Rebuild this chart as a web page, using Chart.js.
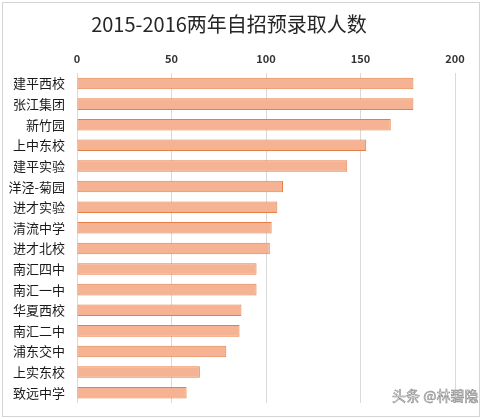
<!DOCTYPE html>
<html>
<head>
<meta charset="utf-8">
<script src="https://cdn.jsdelivr.net/npm/chart.js@4/dist/chart.umd.min.js"></script>
<style>
  html, body { margin: 0; padding: 0; background: #fff; }
  #frame {
    position: absolute; left: 2px; top: 2px;
    width: 476px; height: 413px;
    border: 1px solid #d4d4d4; background: #fff;
  }
  #wm {
    position: absolute; left: 392px; top: 385px;
    font: 14px "Noto Sans CJK SC", sans-serif; color: #f2f2f2;
    -webkit-text-stroke: 0.6px #8a8a8a;
  }
</style>
</head>
<body>
<div id="frame"><canvas id="admitChart"></canvas></div>
<div id="wm">头条 @林碧隐</div>
<script>
// school names, top to bottom
const schools = ['建平西校', '张江集团', '新竹园', '上中东校', '建平实验', '洋泾-菊园', '进才实验', '清流中学',
                 '进才北校', '南汇四中', '南汇一中', '华夏西校', '南汇二中', '浦东交中', '上实东校', '致远中学'];
// admitted students 2015-2016
const admitted = [178, 178, 166, 153, 143, 109, 106, 103, 102, 95, 95, 87, 86, 79, 65, 58];
const xTicks = [0, 50, 100, 150, 200];

const cjk = '"Noto Sans CJK SC", sans-serif';

document.addEventListener('DOMContentLoaded', () => {
    const ctx = document.getElementById('admitChart');
    ctx.width = 476; ctx.height = 413;

    new Chart(ctx, {
        type: 'bar',
        data: {
            labels: schools,
            datasets: [{
                label: '自招预录取人数',
                data: admitted,
                backgroundColor: (c) => {
                    const el = c.element;
                    const chart = c.chart;
                    if (!el || !chart.ctx || el.y === undefined) return '#f5b393';
                    const g = chart.ctx.createLinearGradient(0, el.y - 6, 0, el.y + 6);
                    g.addColorStop(0, '#f7bfa2');
                    g.addColorStop(1, '#f2a47f');
                    return g;
                },
                borderColor: '#e47f48',
                borderWidth: 1,
                borderSkipped: false,
                barPercentage: 0.56,
                categoryPercentage: 1
            }]
        },
        options: {
            indexAxis: 'y',
            responsive: false,
            animation: false,
            layout: { padding: { left: 0, right: 24, top: 0, bottom: 13 } },
            plugins: {
                legend: { display: false },
                tooltip: { enabled: false },
                title: {
                    display: true,
                    text: '2015-2016两年自招预录取人数',
                    color: '#262626',
                    font: { family: cjk, size: 20, weight: 'normal' },
                    padding: { top: 9, bottom: 8 }
                }
            },
            scales: {
                x: {
                    position: 'top',
                    min: xTicks[0],
                    max: xTicks[xTicks.length - 1],
                    afterBuildTicks: (axis) => { axis.ticks = xTicks.map(v => ({ value: v })); },
                    grid: { color: '#d9d9d9', drawTicks: false },
                    border: { display: false },
                    ticks: {
                        color: '#333',
                        padding: 8,
                        font: { family: cjk, size: 11, weight: 'bold' }
                    }
                },
                y: {
                    afterFit: (axis) => { axis.width = 74; },
                    grid: { display: false },
                    border: { display: false },
                    ticks: {
                        color: '#1a1a1a',
                        padding: 4,
                        autoSkip: false,
                        font: { family: cjk, size: 13 }
                    }
                }
            }
        }
    });
});
</script>
</body>
</html>
